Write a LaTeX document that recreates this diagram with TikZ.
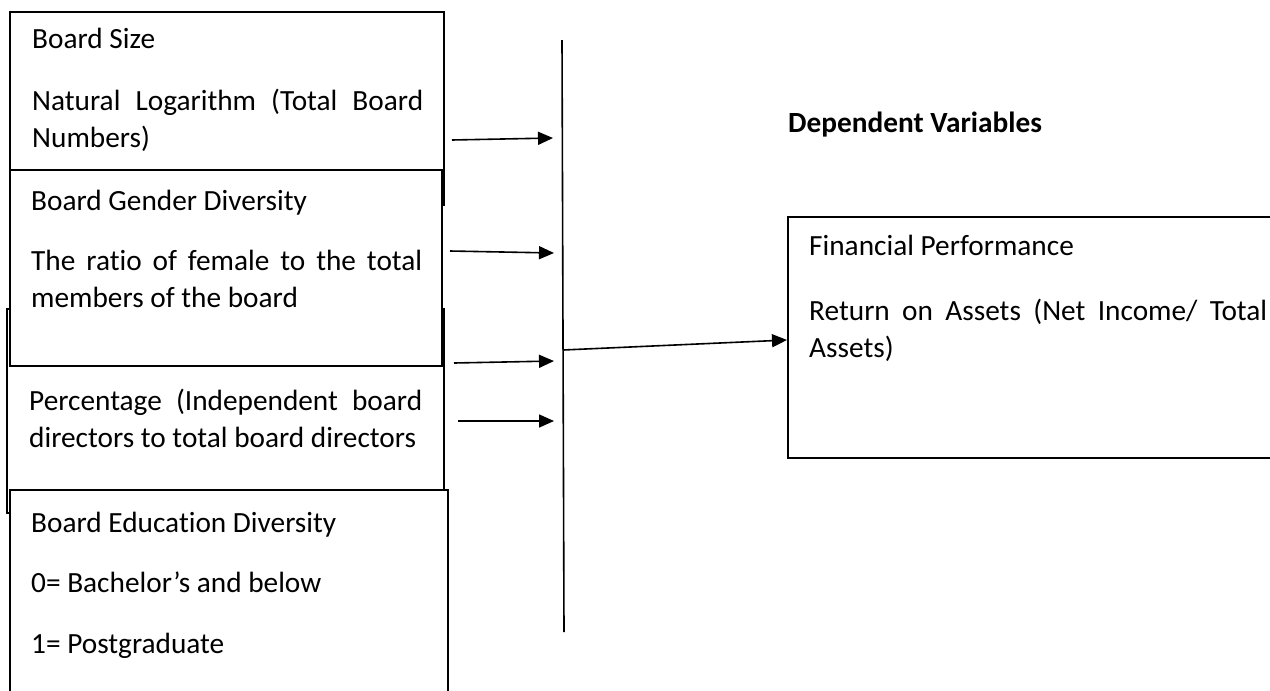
\documentclass[tikz,border=0pt]{standalone}
\usepackage{fontspec}
\setmainfont{Carlito}[Ligatures=NoCommon]
\usetikzlibrary{arrows.meta}
\begin{document}
\begin{tikzpicture}[x=1pt,y=-1pt,
  box/.style={draw=black,line width=1.7pt,fill=white},
  txt/.style={anchor=base west,inner sep=0pt,font=\fontsize{29.3}{38}\selectfont},
  arr/.style={line width=1.6pt,-{Triangle[length=15pt,width=13pt]}},
  ln/.style={line width=1.6pt}]
\useasboundingbox (0,0) rectangle (1270,691);
\begin{scope}
\clip (0,0) rectangle (1270,691);
% boxes (drawn in stacking order)
\draw[box] (10,12) rectangle (444,205);
\draw[box] (7,309) rectangle (444,513);
\draw[box] (10,170) rectangle (442,366);
\draw[box] (10,490) rectangle (448,700);
\draw[box] (788,217) rectangle (1290,458);
\end{scope}
% texts
\node[txt] (b1t) at (32,48) {Board Size};
\node[txt] (b1a) at (32,110) {\makebox[391pt][s]{Natural Logarithm (Total Board}};
\node[txt] (b1b) at (32,147) {Numbers)};
\node[txt] (b2t) at (31,210) {Board Gender Diversity};
\node[txt] (b2a) at (31,270) {\makebox[391pt][s]{The ratio of female to the total}};
\node[txt] (b2b) at (31,307) {members of the board};
\node[txt] (b3a) at (29,410) {\makebox[393pt][s]{Percentage (Independent board}};
\node[txt] (b3b) at (29,447) {directors to total board directors};
\node[txt] (b4t) at (31,532) {Board Education Diversity};
\node[txt] (b4a) at (31,592) {0= Bachelor’s and below};
\node[txt] (b4b) at (31,653) {1= Postgraduate};
\node[txt,font=\fontsize{29.3}{38}\selectfont\bfseries] (dv) at (788,132) {Dependent Variables};
\node[txt] (rt) at (809,255) {Financial Performance};
\node[txt] (ra) at (809,320) {\makebox[458pt][s]{Return on Assets (Net Income/ Total}};
\node[txt] (rb) at (809,357) {Assets)};
% connectors
\coordinate (vtop) at (562,40);
\coordinate (vbot) at (564,632);
\draw[ln] (vtop) -- (vbot);
\coordinate (s1) at (452,140); \coordinate (e1) at (553,138);
\coordinate (s2) at (450,251); \coordinate (e2) at (554,253);
\coordinate (s3) at (454,363); \coordinate (e3) at (554,361);
\coordinate (s4) at (458,421); \coordinate (e4) at (554,421);
\draw[arr] (s1) -- (e1);
\draw[arr] (s2) -- (e2);
\draw[arr] (s3) -- (e3);
\draw[arr] (s4) -- (e4);
\coordinate (m) at (563,350);
\coordinate (re) at (787,340);
\draw[arr] (m) -- (re);
\end{tikzpicture}
\end{document}
